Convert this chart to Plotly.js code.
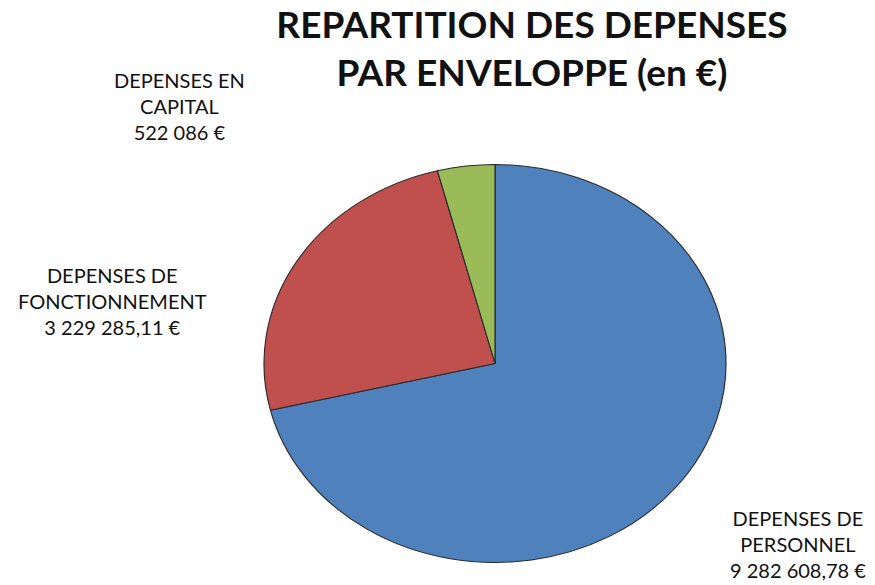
<!DOCTYPE html>
<html>
<head>
<meta charset="utf-8">
<script src="https://cdn.plot.ly/plotly-3.0.1.min.js"></script>
<style>html,body{margin:0;padding:0;background:#fff;}#chart{width:875px;height:585px;}</style>
</head>
<body>
<div id="chart"></div>
<script>
const labels = ["DEPENSES DE PERSONNEL", "DEPENSES DE FONCTIONNEMENT", "DEPENSES EN CAPITAL"];
const values = [9282608.78, 3229285.11, 522086];
const valueLabels = ["9 282 608,78 €", "3 229 285,11 €", "522 086 €"];
const labelLines = [["DEPENSES DE", "PERSONNEL"], ["DEPENSES DE", "FONCTIONNEMENT"], ["DEPENSES EN", "CAPITAL"]];
const colors = ["#4F81BD", "#C0504D", "#9BBB59"];

const W = 875, H = 585;
const cx = 495, cy = 363.5, r = 199;
const labelPos = [[798, 544], [112, 301], [179, 106]];

const font = "Lato, 'Open Sans', sans-serif";

const annotations = labels.map((l, i) => ({
  xref: 'paper', yref: 'paper',
  x: labelPos[i][0] / W, y: 1 - labelPos[i][1] / H,
  xanchor: 'center', yanchor: 'middle',
  text: labelLines[i].concat([valueLabels[i]]).join('<br>'),
  showarrow: false,
  align: 'center',
  font: {family: font, size: 20, color: '#111'}
}));

const data = [{
  type: 'pie',
  labels: labels,
  values: values,
  sort: false,
  direction: 'clockwise',
  rotation: 0,
  textinfo: 'none',
  hoverinfo: 'label+value',
  marker: {colors: colors, line: {color: '#2a2a2a', width: 1}},
  domain: {x: [(cx - r) / W, (cx + r) / W], y: [1 - (cy + r) / H, 1 - (cy - r) / H]},
  showlegend: false
}];

const layout = {
  width: W, height: H,
  margin: {l: 0, r: 0, t: 0, b: 0},
  paper_bgcolor: '#fff',
  showlegend: false,
  title: {
    text: 'REPARTITION DES DEPENSES<br>PAR ENVELOPPE (en €)',
    x: 532 / W, xanchor: 'center',
    y: 1 - 38 / H, yanchor: 'middle',
    font: {family: font, size: 37, color: '#111', weight: 'bold'}
  },
  annotations: annotations
};

Plotly.newPlot('chart', data, layout, {displayModeBar: false, staticPlot: true}).then(() => {
  const g = document.querySelector('.pielayer .trace');
  if (g) {
    const sx = 231 / 199;
    const bb = g.getBBox();
    const c = bb.x + bb.width / 2;
    const prev = g.getAttribute('transform') || '';
    g.setAttribute('transform', `translate(${c},0) scale(${sx},1) translate(${-c},0) ` + prev);
  }
});
</script>
</body>
</html>
